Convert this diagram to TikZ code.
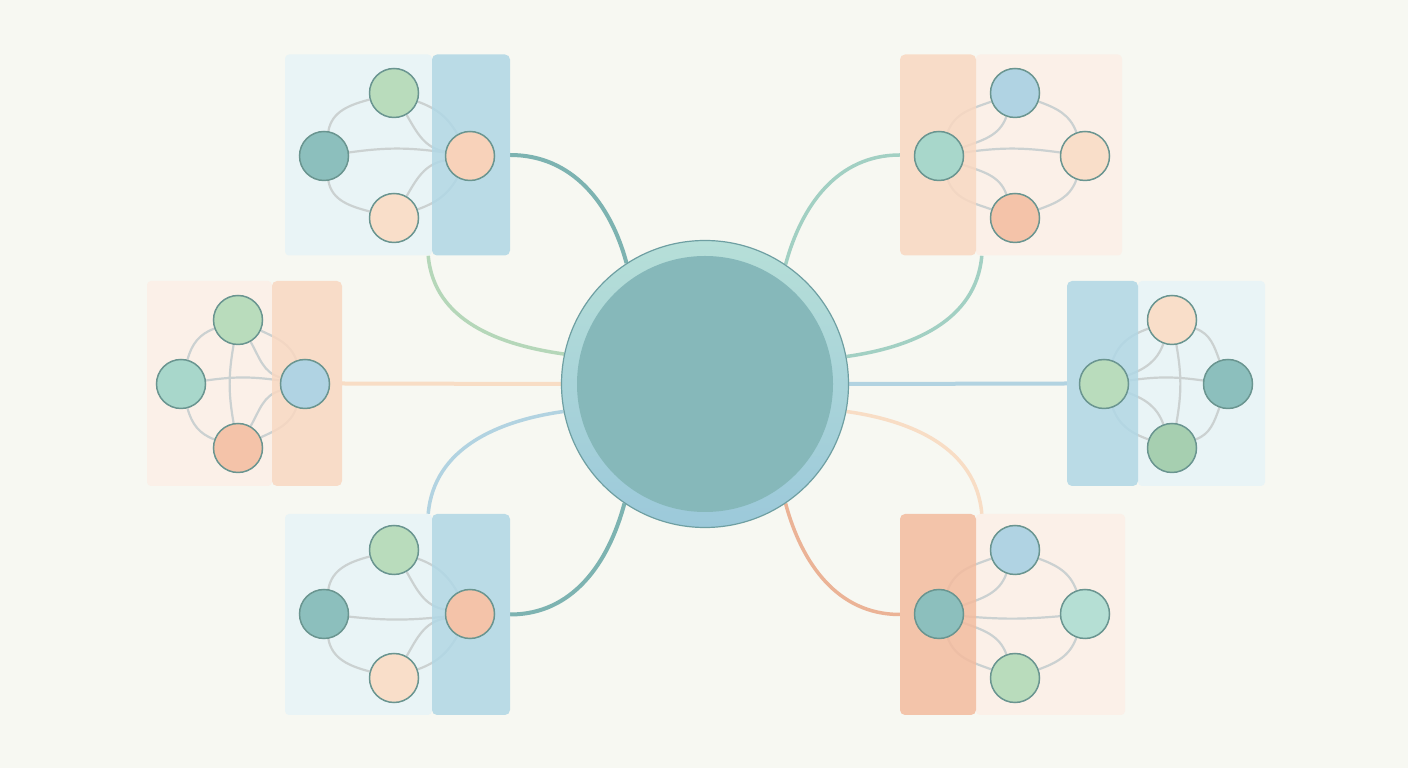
\documentclass[tikz,border=0pt]{standalone}
\definecolor{bgc}{HTML}{F7F8F2}
\definecolor{panelblue}{HTML}{E9F4F6}
\definecolor{stripblue}{HTML}{B0D7E5}
\definecolor{panelpeach}{HTML}{FBF0E8}
\definecolor{strippeach}{HTML}{F9D8C1}
\definecolor{stripsalmon}{HTML}{F3BB9E}
\definecolor{nteal}{HTML}{8CBFBD}
\definecolor{ngreen}{HTML}{B9DCBC}
\definecolor{npeachl}{HTML}{F9DEC9}
\definecolor{npeach}{HTML}{F8D2BA}
\definecolor{nsalmon}{HTML}{F4C3A9}
\definecolor{nblue}{HTML}{B0D3E3}
\definecolor{ntealL}{HTML}{A8D7CB}
\definecolor{ntealLL}{HTML}{B5DFD4}
\definecolor{ngreenD}{HTML}{A6CFB0}
\definecolor{nstroke}{HTML}{6A9590}
\definecolor{gedgec}{HTML}{CBD1D1}
\definecolor{cteal}{HTML}{7DB3B1}
\definecolor{cgreen}{HTML}{B5D7B9}
\definecolor{cpeach}{HTML}{F8DDC5}
\definecolor{cblue}{HTML}{B2D3E1}
\definecolor{ctealL}{HTML}{A2D0C3}
\definecolor{csalmon}{HTML}{EBB396}
\definecolor{hubtop}{HTML}{B6DFD8}
\definecolor{hubbot}{HTML}{9CC9DA}
\definecolor{hubstroke}{HTML}{6E9FA2}
\definecolor{hubin}{HTML}{86B8BA}
\pgfdeclarelayer{bgl}
\pgfdeclarelayer{conns}
\pgfdeclarelayer{panels}
\pgfdeclarelayer{edges}
\pgfdeclarelayer{strips}
\pgfsetlayers{bgl,conns,panels,edges,strips,main}
\begin{document}
\begin{tikzpicture}[x=1pt,y=1pt,
  dot/.style={circle,minimum size=49,inner sep=0,draw=nstroke,line width=1.5},
  panelbox/.style={rectangle,inner sep=0,rounded corners=4,minimum height=201},
  stripbox/.style={rectangle,inner sep=0,rounded corners=5,minimum height=201,fill opacity=0.85},
  gedge/.style={draw=gedgec,line width=2.2},
  conn/.style={line width=4}]
\begin{pgfonlayer}{bgl}
\fill[bgc] (0,0) rectangle (1408,768);
\end{pgfonlayer}
\useasboundingbox (0,0) rectangle (1408,768);

% central hub
\node[circle,minimum size=287,inner sep=0,draw=hubstroke,line width=1.2,top color=hubtop,bottom color=hubbot] (hub) at (705,384) {};
\node[circle,minimum size=256,inner sep=0,fill=hubin] (hubin) at (705,384) {};

% panels and strips
\begin{pgfonlayer}{panels}
\node[panelbox,fill=panelblue,minimum width=147] (tlpanel) at (358.5,613) {};
\node[panelbox,fill=panelpeach,minimum width=125,minimum height=205] (mlpanel) at (209.5,384.5) {};
\node[panelbox,fill=panelblue,minimum width=147] (blpanel) at (358.5,153.5) {};
\node[panelbox,fill=panelpeach,minimum width=146] (trpanel) at (1049,613) {};
\node[panelbox,fill=panelblue,minimum width=127,minimum height=205] (mrpanel) at (1201.5,384.5) {};
\node[panelbox,fill=panelpeach,minimum width=149] (brpanel) at (1050.5,153.5) {};
\end{pgfonlayer}
\begin{pgfonlayer}{strips}
\node[stripbox,fill=stripblue,minimum width=78] (tlstrip) at (471,613) {};
\node[stripbox,fill=strippeach,minimum width=70,minimum height=205] (mlstrip) at (307,384.5) {};
\node[stripbox,fill=stripblue,minimum width=78] (blstrip) at (471,153.5) {};
\node[stripbox,fill=strippeach,minimum width=76] (trstrip) at (938,613) {};
\node[stripbox,fill=stripblue,minimum width=71,minimum height=205] (mrstrip) at (1102.5,384.5) {};
\node[stripbox,fill=stripsalmon,minimum width=76] (brstrip) at (938,153.5) {};
\end{pgfonlayer}

% nodes: top-left
\node[dot,fill=nteal] (tlL) at (324,612) {};
\node[dot,fill=ngreen] (tlT) at (394,675) {};
\node[dot,fill=npeachl] (tlB) at (394,550) {};
\node[dot,fill=npeach] (tlH) at (470,612) {};
% middle-left
\node[dot,fill=ntealL] (mlL) at (181,384) {};
\node[dot,fill=ngreen] (mlT) at (238,448) {};
\node[dot,fill=nsalmon] (mlB) at (238,320) {};
\node[dot,fill=nblue] (mlH) at (305,384) {};
% bottom-left
\node[dot,fill=nteal] (blL) at (324,154) {};
\node[dot,fill=ngreen] (blT) at (394,218) {};
\node[dot,fill=npeachl] (blB) at (394,90) {};
\node[dot,fill=nsalmon] (blH) at (470,154) {};
% top-right
\node[dot,fill=ntealL] (trH) at (939,612) {};
\node[dot,fill=nblue] (trT) at (1015,675) {};
\node[dot,fill=npeachl] (trR) at (1085,612) {};
\node[dot,fill=nsalmon] (trB) at (1015,550) {};
% middle-right
\node[dot,fill=ngreen] (mrH) at (1104,384) {};
\node[dot,fill=npeachl] (mrT) at (1172,448) {};
\node[dot,fill=nteal] (mrR) at (1228,384) {};
\node[dot,fill=ngreenD] (mrB) at (1172,320) {};
% bottom-right
\node[dot,fill=nteal] (brH) at (939,154) {};
\node[dot,fill=nblue] (brT) at (1015,218) {};
\node[dot,fill=ntealLL] (brR) at (1085,154) {};
\node[dot,fill=ngreen] (brB) at (1015,90) {};

\begin{pgfonlayer}{edges}
% top-left
\draw[gedge] (tlL) to[out=80,in=195] (tlT);
\draw[gedge] (tlL) to[out=-80,in=165] (tlB);
\draw[gedge] (tlL) to[bend left=8] (tlH);
\draw[gedge] (tlT) to[out=-20,in=120] (tlH);
\draw[gedge] (tlT) to[out=-60,in=170] (tlH);
\draw[gedge] (tlB) to[out=20,in=-120] (tlH);
\draw[gedge] (tlB) to[out=60,in=190] (tlH);
% middle-left
\draw[gedge] (mlL) to[out=75,in=200] (mlT);
\draw[gedge] (mlL) to[out=-75,in=160] (mlB);
\draw[gedge] (mlL) to[bend left=8] (mlH);
\draw[gedge] (mlT) to[out=-100,in=100] (mlB);
\draw[gedge] (mlT) to[out=-25,in=110] (mlH);
\draw[gedge] (mlT) to[out=-60,in=165] (mlH);
\draw[gedge] (mlB) to[out=25,in=-110] (mlH);
\draw[gedge] (mlB) to[out=60,in=195] (mlH);
% bottom-left
\draw[gedge] (blL) to[out=80,in=195] (blT);
\draw[gedge] (blL) to[out=-80,in=165] (blB);
\draw[gedge] (blL) to[bend right=6] (blH);
\draw[gedge] (blT) to[out=-20,in=120] (blH);
\draw[gedge] (blT) to[out=-60,in=170] (blH);
\draw[gedge] (blB) to[out=20,in=-120] (blH);
\draw[gedge] (blB) to[out=60,in=190] (blH);
% top-right
\draw[gedge] (trT) to[out=-20,in=110] (trR);
\draw[gedge] (trB) to[out=20,in=-110] (trR);
\draw[gedge] (trH) to[bend left=8] (trR);
\draw[gedge] (trH) to[out=70,in=200] (trT);
\draw[gedge] (trH) to[out=20,in=-110] (trT);
\draw[gedge] (trH) to[out=-70,in=160] (trB);
\draw[gedge] (trH) to[out=-20,in=110] (trB);
% middle-right
\draw[gedge] (mrT) to[out=-20,in=110] (mrR);
\draw[gedge] (mrB) to[out=20,in=-110] (mrR);
\draw[gedge] (mrH) to[bend left=8] (mrR);
\draw[gedge] (mrT) to[out=-80,in=80] (mrB);
\draw[gedge] (mrH) to[out=70,in=200] (mrT);
\draw[gedge] (mrH) to[out=20,in=-110] (mrT);
\draw[gedge] (mrH) to[out=-70,in=160] (mrB);
\draw[gedge] (mrH) to[out=-20,in=110] (mrB);
% bottom-right
\draw[gedge] (brT) to[out=-20,in=110] (brR);
\draw[gedge] (brB) to[out=20,in=-110] (brR);
\draw[gedge] (brH) to[bend right=5] (brR);
\draw[gedge] (brH) to[out=70,in=200] (brT);
\draw[gedge] (brH) to[out=20,in=-110] (brT);
\draw[gedge] (brH) to[out=-70,in=160] (brB);
\draw[gedge] (brH) to[out=-20,in=110] (brB);
\end{pgfonlayer}

\begin{pgfonlayer}{conns}
\draw[conn,cteal] (tlstrip.east) to[out=0,in=105] (hub.123);
\draw[conn,cgreen,line width=3.5] ([xshift=-4pt]tlpanel.south east) to[out=-85,in=172] (hub.168.5);
\draw[conn,cpeach] (mlstrip.east) -- (hub.west);
\draw[conn,cteal] (blstrip.east) to[out=0,in=255] (hub.236.5);
\draw[conn,cblue,line width=3.5] ([xshift=-4pt]blpanel.north east) to[out=85,in=188] (hub.191.5);
\draw[conn,ctealL,line width=3.5] (trstrip.west) to[out=180,in=75] (hub.56);
\draw[conn,ctealL,line width=3.5] ([xshift=6pt]trpanel.south west) to[out=-95,in=8] (hub.11.5);
\draw[conn,cblue] (hub.east) -- (mrstrip.west);
\draw[conn,csalmon,line width=3.5] (brstrip.west) to[out=180,in=-75] (hub.-56);
\draw[conn,cpeach,line width=3.5] ([xshift=6pt]brpanel.north west) to[out=95,in=-8] (hub.-11.5);
\end{pgfonlayer}
\end{tikzpicture}
\end{document}
